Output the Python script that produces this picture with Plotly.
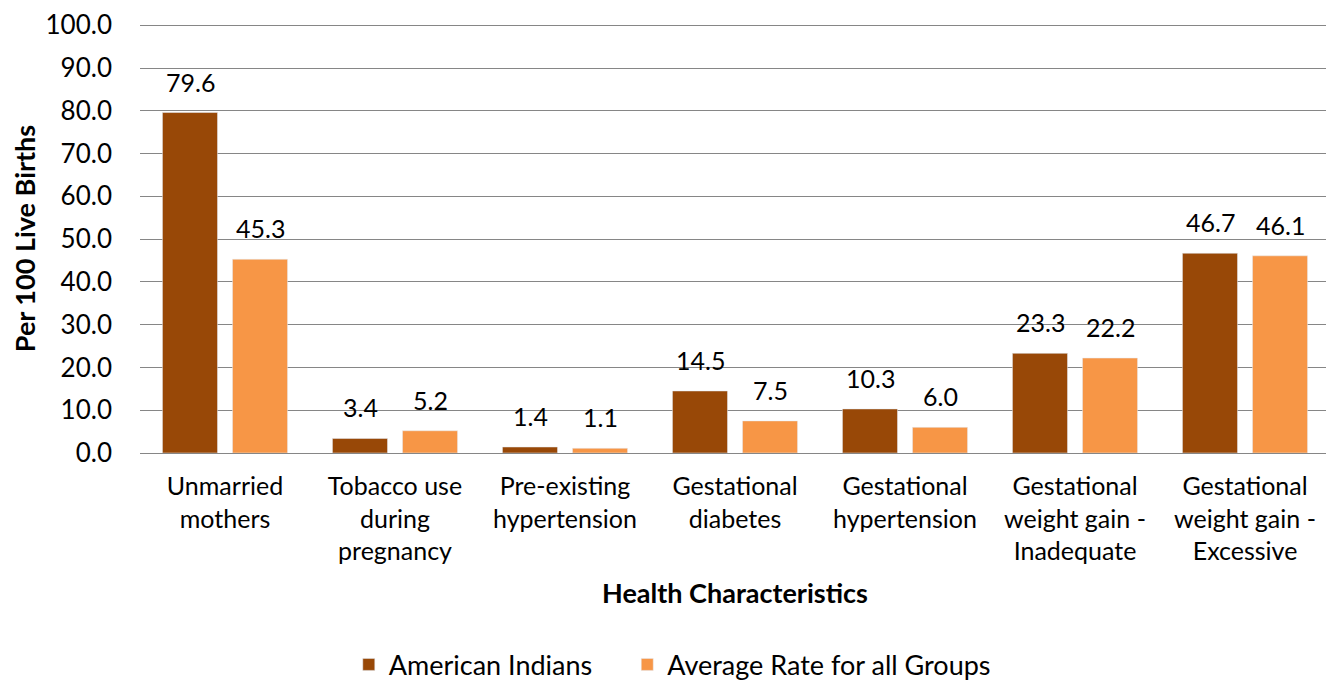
import plotly.graph_objects as go

categories = ["Unmarried<br>mothers", "Tobacco use<br>during<br>pregnancy", "Pre-existing<br>hypertension",
              "Gestational<br>diabetes", "Gestational<br>hypertension",
              "Gestational<br>weight gain -<br>Inadequate", "Gestational<br>weight gain -<br>Excessive"]
american_indians = [79.6, 3.4, 1.4, 14.5, 10.3, 23.3, 46.7]
average_all = [45.3, 5.2, 1.1, 7.5, 6.0, 22.2, 46.1]
y_ticks = [0, 10, 20, 30, 40, 50, 60, 70, 80, 90, 100]

FONT = "Lato"

fig = go.Figure()
fig.add_trace(go.Bar(x=categories, y=american_indians, name="American Indians",
                     marker_color="#984807", legend="legend", showlegend=True))
fig.add_trace(go.Bar(x=categories, y=average_all, name="Average Rate for all Groups",
                     marker_color="#F79646", legend="legend2", showlegend=True))

# value labels above bars (placed at each bar's data value)
for series, shift in ((american_indians, -35), (average_all, 35)):
    for cat, v in zip(categories, series):
        fig.add_annotation(x=cat, y=v, text=f"{v:.1f}", showarrow=False,
                           xshift=shift, yanchor="bottom", yshift=14,
                           font=dict(size=25, color="black", family=FONT))

legend_style = dict(orientation="h", xanchor="left", xref="container",
                    y=0.024, yanchor="middle", yref="container", font=dict(size=27))

# the page body adds an 8px offset, so the figure is sized to the remaining area
fig.update_layout(
    width=1326, height=673,
    margin=dict(l=132, r=4, t=16, b=228),
    plot_bgcolor="white", paper_bgcolor="white",
    font=dict(family=FONT, size=25, color="black"),
    showlegend=True,
    barmode="group", bargap=0.176, bargroupgap=0.214,
    legend=dict(x=0.257, **legend_style),
    legend2=dict(x=0.467, **legend_style),
    xaxis=dict(title=dict(text="<b>Health Characteristics</b>", font=dict(size=27), standoff=20),
               showline=True, linecolor="#868686", linewidth=1, tickfont=dict(size=25),
               ticklabelstandoff=11, automargin=False),
    yaxis=dict(title=dict(text="<b>Per 100 Live Births</b>", font=dict(size=27), standoff=18),
               range=[0, 100.3], tickvals=y_ticks, ticktext=[f"{v:.1f}" for v in y_ticks],
               showgrid=True, gridcolor="#868686", gridwidth=1, zeroline=False,
               ticklabelstandoff=27, tickfont=dict(size=26), automargin=False),
)

fig.write_html("out.html")
